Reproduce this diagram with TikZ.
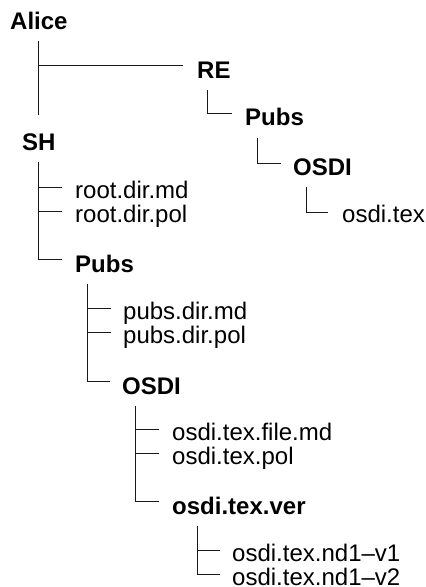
\documentclass[tikz,border=0pt]{standalone}
\usepackage{fontspec}
\setmainfont{Liberation Sans}
\usetikzlibrary{calc}
\begin{document}
\begin{tikzpicture}[x=1pt,y=-1pt,
  lbl/.style={anchor=base west,inner sep=0pt,font=\fontsize{24}{26}\selectfont},
  dirn/.style={lbl,font=\fontsize{24}{26}\selectfont\bfseries},
  conn/.style={draw=black!90,line width=0.9pt}]
\useasboundingbox (0,0) rectangle (426,587);
% nodes
\node[dirn] (alice) at (10,29) {Alice};
\node[dirn] (re) at (197,78) {RE};
\node[dirn] (pubsR) at (245,125) {Pubs};
\node[dirn] (osdiR) at (293,175) {OSDI};
\node[lbl] (osditexR) at (342,222) {osdi.tex};
\node[dirn] (sh) at (22,150) {SH};
\node[lbl] (rootmd) at (75,198) {root.dir.md};
\node[lbl] (rootpol) at (75,222) {root.dir.pol};
\node[dirn] (pubsL) at (75,272) {Pubs};
\node[lbl] (pubsmd) at (123,319) {pubs.dir.md};
\node[lbl] (pubspol) at (123,343) {pubs.dir.pol};
\node[dirn] (osdiL) at (122,394) {OSDI};
\node[lbl] (filemd) at (172,440) {osdi.tex.file.md};
\node[lbl] (texpol) at (172,464) {osdi.tex.pol};
\node[dirn] (ver) at (172,514) {osdi.tex.ver};
\node[lbl] (nda) at (232,561) {osdi.tex.nd1–v1};
\node[lbl] (ndb) at (232,585) {osdi.tex.nd1–v2};
% Alice
\coordinate (av) at ($(alice.base west)+(28,12)$);
\coordinate (ae) at ($(sh.base west)+(16,-35)$);
\coordinate (ret) at ($(re.base west)+(-14,-13)$);
\draw[conn] (av) -- (ae);
\draw[conn] (av |- ret) -- (ret);
% right branch
\draw[conn] ($(re.base west)+(10,12)$) |- ($(pubsR.base west)+(-13,-12)$);
\draw[conn] ($(pubsR.base west)+(12,13)$) |- ($(osdiR.base west)+(-12,-12)$);
\draw[conn] ($(osdiR.base west)+(13,12)$) |- ($(osditexR.base west)+(-14,-10)$);
% SH
\coordinate (shv) at ($(sh.base west)+(16,12)$);
\coordinate (t1) at ($(rootmd.base west)+(-13,-11)$);
\coordinate (t2) at ($(rootpol.base west)+(-13,-11)$);
\draw[conn] (shv) |- ($(pubsL.base west)+(-13,-13)$);
\draw[conn] (shv |- t1) -- (t1);
\draw[conn] (shv |- t2) -- (t2);
% Pubs left
\coordinate (pv) at ($(pubsL.base west)+(12,12)$);
\coordinate (t3) at ($(pubsmd.base west)+(-12,-11)$);
\coordinate (t4) at ($(pubspol.base west)+(-12,-11)$);
\draw[conn] (pv) |- ($(osdiL.base west)+(-12,-13)$);
\draw[conn] (pv |- t3) -- (t3);
\draw[conn] (pv |- t4) -- (t4);
% OSDI left
\coordinate (ov) at ($(osdiL.base west)+(13,12)$);
\coordinate (t5) at ($(filemd.base west)+(-13,-11)$);
\coordinate (t6) at ($(texpol.base west)+(-13,-11)$);
\draw[conn] (ov) |- ($(ver.base west)+(-13,-13)$);
\draw[conn] (ov |- t5) -- (t5);
\draw[conn] (ov |- t6) -- (t6);
% ver
\coordinate (vv) at ($(ver.base west)+(25,12)$);
\coordinate (t7) at ($(nda.base west)+(-12,-11)$);
\draw[conn] (vv) |- ($(ndb.base west)+(-12,-11)$);
\draw[conn] (vv |- t7) -- (t7);
\end{tikzpicture}
\end{document}
